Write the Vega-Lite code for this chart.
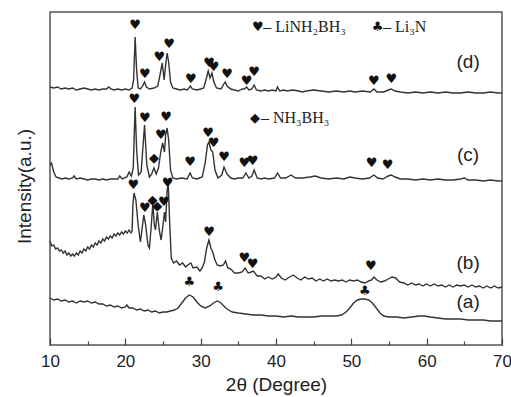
{
  "$schema": "https://vega.github.io/schema/vega-lite/v6.json",
  "width": 452,
  "height": 333,
  "autosize": "none",
  "padding": {"left": 50, "top": 12, "right": 9, "bottom": 52},
  "config": {
    "view": {"stroke": "#555", "strokeWidth": 1.5},
    "font": "Liberation Sans",
    "axis": {"grid": false}
  },
  "datasets": {
    "curves": [
      {"s":"d","x":10,"y":258},{"s":"d","x":10.5,"y":257},{"s":"d","x":11,"y":258},{"s":"d","x":11.5,"y":256},{"s":"d","x":12,"y":257},{"s":"d","x":12.5,"y":256},{"s":"d","x":13,"y":257},{"s":"d","x":13.5,"y":255},{"s":"d","x":14,"y":256},{"s":"d","x":14.5,"y":257},{"s":"d","x":15,"y":256},{"s":"d","x":15.5,"y":255},{"s":"d","x":16,"y":256},{"s":"d","x":16.5,"y":255},{"s":"d","x":17,"y":256},{"s":"d","x":17.5,"y":256},{"s":"d","x":17.8,"y":258},{"s":"d","x":18.1,"y":256},{"s":"d","x":18.5,"y":255},{"s":"d","x":19,"y":256},{"s":"d","x":19.5,"y":255},{"s":"d","x":20,"y":256},{"s":"d","x":20.5,"y":255},{"s":"d","x":20.9,"y":257},{"s":"d","x":21.1,"y":265},{"s":"d","x":21.3,"y":308},{"s":"d","x":21.5,"y":275},{"s":"d","x":21.7,"y":257},{"s":"d","x":22,"y":256},{"s":"d","x":22.3,"y":259},{"s":"d","x":22.55,"y":263},{"s":"d","x":22.8,"y":258},{"s":"d","x":23.2,"y":256},{"s":"d","x":23.8,"y":257},{"s":"d","x":24.3,"y":259},{"s":"d","x":24.6,"y":270},{"s":"d","x":24.9,"y":282},{"s":"d","x":25.15,"y":265},{"s":"d","x":25.35,"y":280},{"s":"d","x":25.55,"y":292},{"s":"d","x":25.75,"y":283},{"s":"d","x":26,"y":263},{"s":"d","x":26.3,"y":257},{"s":"d","x":26.8,"y":256},{"s":"d","x":27.3,"y":255},{"s":"d","x":27.8,"y":256},{"s":"d","x":28.2,"y":255},{"s":"d","x":28.45,"y":257},{"s":"d","x":28.65,"y":259},{"s":"d","x":28.9,"y":256},{"s":"d","x":29.5,"y":255},{"s":"d","x":30,"y":256},{"s":"d","x":30.4,"y":257},{"s":"d","x":30.7,"y":265},{"s":"d","x":31,"y":274},{"s":"d","x":31.25,"y":267},{"s":"d","x":31.5,"y":272},{"s":"d","x":31.75,"y":263},{"s":"d","x":32.1,"y":257},{"s":"d","x":32.7,"y":256},{"s":"d","x":33,"y":260},{"s":"d","x":33.25,"y":263},{"s":"d","x":33.5,"y":259},{"s":"d","x":34,"y":256},{"s":"d","x":34.5,"y":255},{"s":"d","x":35,"y":254},{"s":"d","x":35.5,"y":256},{"s":"d","x":35.8,"y":256},{"s":"d","x":36.1,"y":258},{"s":"d","x":36.4,"y":255},{"s":"d","x":36.8,"y":256},{"s":"d","x":37.1,"y":260},{"s":"d","x":37.4,"y":255},{"s":"d","x":38,"y":254},{"s":"d","x":38.5,"y":255},{"s":"d","x":39,"y":254},{"s":"d","x":39.5,"y":255},{"s":"d","x":40,"y":254},{"s":"d","x":40.2,"y":258},{"s":"d","x":40.5,"y":254},{"s":"d","x":41,"y":255},{"s":"d","x":41.5,"y":254},{"s":"d","x":42.2,"y":255},{"s":"d","x":43,"y":254},{"s":"d","x":43.5,"y":253},{"s":"d","x":44,"y":254},{"s":"d","x":45,"y":255},{"s":"d","x":46,"y":254},{"s":"d","x":47,"y":253},{"s":"d","x":48,"y":254},{"s":"d","x":49,"y":253},{"s":"d","x":49.8,"y":254},{"s":"d","x":50.5,"y":253},{"s":"d","x":51.5,"y":254},{"s":"d","x":52.5,"y":253},{"s":"d","x":53,"y":256},{"s":"d","x":53.4,"y":253},{"s":"d","x":54.3,"y":253},{"s":"d","x":54.9,"y":255},{"s":"d","x":55.3,"y":256},{"s":"d","x":55.8,"y":254},{"s":"d","x":56.5,"y":253},{"s":"d","x":57.5,"y":252},{"s":"d","x":58.5,"y":253},{"s":"d","x":59.5,"y":252},{"s":"d","x":60.5,"y":253},{"s":"d","x":61.5,"y":252},{"s":"d","x":62.5,"y":253},{"s":"d","x":63.5,"y":252},{"s":"d","x":64.5,"y":252},{"s":"d","x":65.5,"y":253},{"s":"d","x":66.5,"y":252},{"s":"d","x":67.5,"y":252},{"s":"d","x":68.5,"y":253},{"s":"d","x":69.5,"y":252},{"s":"d","x":70,"y":252},

      {"s":"c","x":10,"y":180},{"s":"c","x":10.2,"y":182},{"s":"c","x":10.5,"y":173},{"s":"c","x":10.8,"y":168},{"s":"c","x":11.2,"y":167},{"s":"c","x":11.6,"y":166},{"s":"c","x":12,"y":167},{"s":"c","x":12.5,"y":166},{"s":"c","x":13,"y":167},{"s":"c","x":13.2,"y":169},{"s":"c","x":13.5,"y":166},{"s":"c","x":14,"y":167},{"s":"c","x":14.5,"y":166},{"s":"c","x":15,"y":165},{"s":"c","x":15.5,"y":166},{"s":"c","x":16,"y":166},{"s":"c","x":16.5,"y":165},{"s":"c","x":17,"y":166},{"s":"c","x":17.5,"y":165},{"s":"c","x":18,"y":166},{"s":"c","x":18.5,"y":166},{"s":"c","x":19,"y":166},{"s":"c","x":19.25,"y":169},{"s":"c","x":19.6,"y":166},{"s":"c","x":20.2,"y":168},{"s":"c","x":20.5,"y":173},{"s":"c","x":20.8,"y":169},{"s":"c","x":21.05,"y":177},{"s":"c","x":21.3,"y":238},{"s":"c","x":21.5,"y":195},{"s":"c","x":21.75,"y":170},{"s":"c","x":22.1,"y":173},{"s":"c","x":22.55,"y":220},{"s":"c","x":22.85,"y":180},{"s":"c","x":23.2,"y":168},{"s":"c","x":23.5,"y":171},{"s":"c","x":23.8,"y":177},{"s":"c","x":24.1,"y":171},{"s":"c","x":24.4,"y":177},{"s":"c","x":24.7,"y":193},{"s":"c","x":24.95,"y":202},{"s":"c","x":25.2,"y":193},{"s":"c","x":25.35,"y":210},{"s":"c","x":25.55,"y":217},{"s":"c","x":25.75,"y":205},{"s":"c","x":26,"y":175},{"s":"c","x":26.3,"y":167},{"s":"c","x":26.8,"y":166},{"s":"c","x":27.5,"y":167},{"s":"c","x":28.2,"y":166},{"s":"c","x":28.6,"y":172},{"s":"c","x":28.9,"y":167},{"s":"c","x":29.5,"y":166},{"s":"c","x":30.2,"y":168},{"s":"c","x":30.6,"y":182},{"s":"c","x":30.9,"y":200},{"s":"c","x":31.1,"y":203},{"s":"c","x":31.35,"y":195},{"s":"c","x":31.6,"y":193},{"s":"c","x":31.9,"y":175},{"s":"c","x":32.3,"y":167},{"s":"c","x":32.8,"y":170},{"s":"c","x":33.1,"y":178},{"s":"c","x":33.5,"y":171},{"s":"c","x":34,"y":167},{"s":"c","x":34.5,"y":166},{"s":"c","x":35,"y":167},{"s":"c","x":35.6,"y":167},{"s":"c","x":36,"y":172},{"s":"c","x":36.4,"y":167},{"s":"c","x":36.8,"y":169},{"s":"c","x":37.1,"y":175},{"s":"c","x":37.5,"y":167},{"s":"c","x":38,"y":166},{"s":"c","x":38.5,"y":167},{"s":"c","x":39,"y":166},{"s":"c","x":39.8,"y":167},{"s":"c","x":40.2,"y":172},{"s":"c","x":40.6,"y":167},{"s":"c","x":41.3,"y":167},{"s":"c","x":42,"y":170},{"s":"c","x":42.6,"y":167},{"s":"c","x":43.5,"y":167},{"s":"c","x":44.5,"y":168},{"s":"c","x":45.2,"y":169},{"s":"c","x":46,"y":167},{"s":"c","x":47,"y":166},{"s":"c","x":48,"y":167},{"s":"c","x":49,"y":166},{"s":"c","x":49.8,"y":168},{"s":"c","x":50.5,"y":167},{"s":"c","x":51.5,"y":166},{"s":"c","x":52.4,"y":167},{"s":"c","x":53,"y":170},{"s":"c","x":53.5,"y":167},{"s":"c","x":54.2,"y":166},{"s":"c","x":54.9,"y":169},{"s":"c","x":55.3,"y":170},{"s":"c","x":55.8,"y":168},{"s":"c","x":56.5,"y":166},{"s":"c","x":57.5,"y":166},{"s":"c","x":58.5,"y":165},{"s":"c","x":59.5,"y":166},{"s":"c","x":60.5,"y":165},{"s":"c","x":61.5,"y":166},{"s":"c","x":62.5,"y":165},{"s":"c","x":63.5,"y":165},{"s":"c","x":64.5,"y":166},{"s":"c","x":65,"y":167},{"s":"c","x":65.5,"y":165},{"s":"c","x":66.5,"y":165},{"s":"c","x":67.5,"y":164},{"s":"c","x":68.5,"y":165},{"s":"c","x":69.5,"y":164},{"s":"c","x":70,"y":164},

      {"s":"b","x":10,"y":104},{"s":"b","x":10.25,"y":99},{"s":"b","x":10.5,"y":100},{"s":"b","x":10.75,"y":96},{"s":"b","x":11,"y":97},{"s":"b","x":11.25,"y":94},{"s":"b","x":11.5,"y":95},{"s":"b","x":11.75,"y":92},{"s":"b","x":12,"y":94},{"s":"b","x":12.25,"y":90},{"s":"b","x":12.5,"y":92},{"s":"b","x":12.75,"y":89},{"s":"b","x":13,"y":91},{"s":"b","x":13.25,"y":89},{"s":"b","x":13.5,"y":92},{"s":"b","x":13.75,"y":90},{"s":"b","x":14,"y":94},{"s":"b","x":14.25,"y":92},{"s":"b","x":14.5,"y":96},{"s":"b","x":14.75,"y":94},{"s":"b","x":15,"y":98},{"s":"b","x":15.25,"y":96},{"s":"b","x":15.5,"y":100},{"s":"b","x":15.75,"y":98},{"s":"b","x":16,"y":102},{"s":"b","x":16.25,"y":100},{"s":"b","x":16.5,"y":104},{"s":"b","x":16.75,"y":102},{"s":"b","x":17,"y":106},{"s":"b","x":17.25,"y":104},{"s":"b","x":17.5,"y":108},{"s":"b","x":17.75,"y":106},{"s":"b","x":18,"y":109},{"s":"b","x":18.25,"y":107},{"s":"b","x":18.5,"y":111},{"s":"b","x":18.75,"y":109},{"s":"b","x":19,"y":112},{"s":"b","x":19.25,"y":110},{"s":"b","x":19.5,"y":113},{"s":"b","x":19.75,"y":111},{"s":"b","x":20,"y":114},{"s":"b","x":20.25,"y":112},{"s":"b","x":20.5,"y":115},{"s":"b","x":20.75,"y":112},{"s":"b","x":20.9,"y":114},{"s":"b","x":21,"y":140},{"s":"b","x":21.15,"y":152},{"s":"b","x":21.4,"y":145},{"s":"b","x":21.7,"y":120},{"s":"b","x":22,"y":103},{"s":"b","x":22.2,"y":115},{"s":"b","x":22.45,"y":130},{"s":"b","x":22.7,"y":120},{"s":"b","x":23,"y":100},{"s":"b","x":23.2,"y":97},{"s":"b","x":23.45,"y":120},{"s":"b","x":23.65,"y":142},{"s":"b","x":23.85,"y":120},{"s":"b","x":24,"y":115},{"s":"b","x":24.25,"y":133},{"s":"b","x":24.5,"y":115},{"s":"b","x":24.75,"y":105},{"s":"b","x":25,"y":120},{"s":"b","x":25.2,"y":133},{"s":"b","x":25.35,"y":123},{"s":"b","x":25.55,"y":155},{"s":"b","x":25.7,"y":160},{"s":"b","x":25.9,"y":120},{"s":"b","x":26.1,"y":87},{"s":"b","x":26.4,"y":82},{"s":"b","x":26.8,"y":84},{"s":"b","x":27.2,"y":80},{"s":"b","x":27.6,"y":82},{"s":"b","x":28,"y":78},{"s":"b","x":28.3,"y":80},{"s":"b","x":28.7,"y":82},{"s":"b","x":29,"y":77},{"s":"b","x":29.5,"y":78},{"s":"b","x":29.9,"y":74},{"s":"b","x":30.2,"y":77},{"s":"b","x":30.5,"y":83},{"s":"b","x":30.8,"y":97},{"s":"b","x":31.1,"y":105},{"s":"b","x":31.35,"y":97},{"s":"b","x":31.6,"y":93},{"s":"b","x":31.9,"y":85},{"s":"b","x":32.2,"y":80},{"s":"b","x":32.6,"y":79},{"s":"b","x":33,"y":80},{"s":"b","x":33.3,"y":84},{"s":"b","x":33.6,"y":77},{"s":"b","x":34,"y":76},{"s":"b","x":34.5,"y":72},{"s":"b","x":35,"y":72},{"s":"b","x":35.5,"y":73},{"s":"b","x":35.9,"y":77},{"s":"b","x":36.3,"y":72},{"s":"b","x":36.7,"y":73},{"s":"b","x":37,"y":74},{"s":"b","x":37.5,"y":69},{"s":"b","x":38,"y":69},{"s":"b","x":38.5,"y":66},{"s":"b","x":39,"y":68},{"s":"b","x":39.5,"y":66},{"s":"b","x":40,"y":68},{"s":"b","x":40.3,"y":71},{"s":"b","x":40.7,"y":67},{"s":"b","x":41.2,"y":65},{"s":"b","x":41.8,"y":68},{"s":"b","x":42.3,"y":70},{"s":"b","x":42.8,"y":67},{"s":"b","x":43.3,"y":65},{"s":"b","x":43.8,"y":68},{"s":"b","x":44.3,"y":66},{"s":"b","x":44.8,"y":67},{"s":"b","x":45.3,"y":64},{"s":"b","x":45.8,"y":66},{"s":"b","x":46.3,"y":64},{"s":"b","x":46.8,"y":66},{"s":"b","x":47.3,"y":64},{"s":"b","x":47.8,"y":65},{"s":"b","x":48.3,"y":64},{"s":"b","x":48.8,"y":65},{"s":"b","x":49.3,"y":63},{"s":"b","x":49.8,"y":65},{"s":"b","x":50.3,"y":64},{"s":"b","x":50.8,"y":65},{"s":"b","x":51.3,"y":63},{"s":"b","x":51.8,"y":62},{"s":"b","x":52.3,"y":64},{"s":"b","x":52.7,"y":65},{"s":"b","x":53,"y":68},{"s":"b","x":53.4,"y":65},{"s":"b","x":53.9,"y":63},{"s":"b","x":54.4,"y":64},{"s":"b","x":54.9,"y":66},{"s":"b","x":55.4,"y":68},{"s":"b","x":55.9,"y":67},{"s":"b","x":56.4,"y":63},{"s":"b","x":57,"y":62},{"s":"b","x":57.5,"y":60},{"s":"b","x":58,"y":62},{"s":"b","x":58.5,"y":60},{"s":"b","x":59,"y":61},{"s":"b","x":59.5,"y":59},{"s":"b","x":60,"y":61},{"s":"b","x":60.5,"y":59},{"s":"b","x":61,"y":61},{"s":"b","x":61.5,"y":59},{"s":"b","x":62,"y":60},{"s":"b","x":62.5,"y":58},{"s":"b","x":63,"y":60},{"s":"b","x":63.5,"y":58},{"s":"b","x":64,"y":60},{"s":"b","x":64.5,"y":59},{"s":"b","x":65,"y":60},{"s":"b","x":65.5,"y":58},{"s":"b","x":66,"y":60},{"s":"b","x":66.5,"y":58},{"s":"b","x":67,"y":59},{"s":"b","x":67.5,"y":57},{"s":"b","x":68,"y":59},{"s":"b","x":68.5,"y":57},{"s":"b","x":69,"y":59},{"s":"b","x":69.5,"y":57},{"s":"b","x":70,"y":58},

      {"s":"a","x":10,"y":47},{"s":"a","x":10.5,"y":45},{"s":"a","x":11,"y":46},{"s":"a","x":11.5,"y":44},{"s":"a","x":12,"y":45},{"s":"a","x":12.5,"y":43},{"s":"a","x":13,"y":44},{"s":"a","x":13.5,"y":42},{"s":"a","x":14,"y":44},{"s":"a","x":14.5,"y":43},{"s":"a","x":15,"y":44},{"s":"a","x":15.5,"y":42},{"s":"a","x":16,"y":43},{"s":"a","x":16.5,"y":41},{"s":"a","x":17,"y":41},{"s":"a","x":17.5,"y":39},{"s":"a","x":18,"y":40},{"s":"a","x":18.5,"y":38},{"s":"a","x":19,"y":39},{"s":"a","x":19.5,"y":37},{"s":"a","x":20,"y":38},{"s":"a","x":20.2,"y":40},{"s":"a","x":20.5,"y":37},{"s":"a","x":21,"y":37},{"s":"a","x":21.5,"y":35},{"s":"a","x":22,"y":36},{"s":"a","x":22.5,"y":34},{"s":"a","x":23,"y":35},{"s":"a","x":23.5,"y":33},{"s":"a","x":24,"y":34},{"s":"a","x":24.5,"y":32},{"s":"a","x":25,"y":33},{"s":"a","x":25.5,"y":33},{"s":"a","x":26,"y":34},{"s":"a","x":26.5,"y":35},{"s":"a","x":27,"y":37},{"s":"a","x":27.5,"y":42},{"s":"a","x":28,"y":47},{"s":"a","x":28.5,"y":50},{"s":"a","x":29,"y":48},{"s":"a","x":29.5,"y":43},{"s":"a","x":30,"y":39},{"s":"a","x":30.6,"y":37},{"s":"a","x":31.2,"y":39},{"s":"a","x":31.7,"y":42},{"s":"a","x":32.2,"y":44},{"s":"a","x":32.7,"y":42},{"s":"a","x":33.2,"y":38},{"s":"a","x":33.7,"y":35},{"s":"a","x":34.2,"y":33},{"s":"a","x":35,"y":32},{"s":"a","x":36,"y":31},{"s":"a","x":37,"y":30},{"s":"a","x":38,"y":30},{"s":"a","x":39,"y":29},{"s":"a","x":40,"y":29},{"s":"a","x":41,"y":28},{"s":"a","x":42,"y":29},{"s":"a","x":43,"y":28},{"s":"a","x":44,"y":28},{"s":"a","x":45,"y":28},{"s":"a","x":46,"y":29},{"s":"a","x":47,"y":29},{"s":"a","x":48,"y":29},{"s":"a","x":48.7,"y":30},{"s":"a","x":49.3,"y":33},{"s":"a","x":49.8,"y":37},{"s":"a","x":50.3,"y":42},{"s":"a","x":50.8,"y":45},{"s":"a","x":51.3,"y":46},{"s":"a","x":51.8,"y":46},{"s":"a","x":52.3,"y":45},{"s":"a","x":52.8,"y":42},{"s":"a","x":53.3,"y":37},{"s":"a","x":53.8,"y":32},{"s":"a","x":54.3,"y":29},{"s":"a","x":55,"y":28},{"s":"a","x":56,"y":28},{"s":"a","x":57,"y":27},{"s":"a","x":58,"y":28},{"s":"a","x":59,"y":29},{"s":"a","x":59.7,"y":29},{"s":"a","x":60.5,"y":28},{"s":"a","x":61.5,"y":27},{"s":"a","x":62.5,"y":26},{"s":"a","x":63.5,"y":26},{"s":"a","x":64.5,"y":26},{"s":"a","x":65.5,"y":25},{"s":"a","x":66.5,"y":25},{"s":"a","x":67.5,"y":25},{"s":"a","x":68.5,"y":24},{"s":"a","x":69.5,"y":24},{"s":"a","x":70,"y":24}
    ],
    "markers": [
      {"m":"♥","x":21.3,"y":320},{"m":"♥","x":22.6,"y":271},{"m":"♥","x":24.5,"y":288},{"m":"♥","x":25.8,"y":301},{"m":"♥","x":28.7,"y":266},{"m":"♥","x":31.1,"y":282},{"m":"♥","x":31.7,"y":278},{"m":"♥","x":33.5,"y":271},{"m":"♥","x":36.1,"y":264},{"m":"♥","x":37.1,"y":273},{"m":"♥","x":53.0,"y":264},{"m":"♥","x":55.3,"y":266},
      {"m":"♥","x":21.2,"y":246},{"m":"♥","x":22.6,"y":227},{"m":"♥","x":25.4,"y":228},{"m":"♥","x":24.7,"y":210},{"m":"◆","x":23.8,"y":187},{"m":"♥","x":31.0,"y":212},{"m":"♥","x":31.7,"y":202},{"m":"♥","x":33.1,"y":188},{"m":"♥","x":28.6,"y":183},{"m":"♥","x":35.8,"y":182},{"m":"♥","x":36.9,"y":184},{"m":"♥","x":52.7,"y":182},{"m":"♥","x":54.8,"y":180},
      {"m":"♥","x":21.06,"y":160},{"m":"♥","x":22.6,"y":137},{"m":"◆","x":23.6,"y":145},{"m":"◆","x":24.25,"y":139},{"m":"♥","x":25.1,"y":143},{"m":"♥","x":25.6,"y":162},{"m":"♥","x":31.1,"y":113},{"m":"♥","x":35.8,"y":87},{"m":"♥","x":36.9,"y":81},{"m":"♥","x":52.6,"y":79},
      {"m":"♣","x":28.5,"y":63},{"m":"♣","x":32.3,"y":58},{"m":"♣","x":51.8,"y":54},
      {"m":"♥","x":37.6,"y":318},{"m":"♣","x":53.5,"y":318},{"m":"◆","x":37.2,"y":227}
    ],
    "notes": [
      {"t":"– LiNH₂BH₃","x":38.3,"y":318},
      {"t":"– Li₃N","x":54.2,"y":318},
      {"t":"– NH₃BH₃","x":38.0,"y":227}
    ],
    "tags": [
      {"t":"(d)","x":65.5,"y":283},
      {"t":"(c)","x":65.5,"y":190},
      {"t":"(b)","x":65.5,"y":82},
      {"t":"(a)","x":65.5,"y":43}
    ]
  },
  "resolve": {"axis": {"x": "independent"}},
  "layer": [
    {
      "data": {"name": "curves"},
      "mark": {"type": "line", "color": "#333", "interpolate": "linear"},
      "encoding": {
        "x": {"field": "x", "type": "quantitative", "scale": {"domain": [10, 70], "nice": false},
          "axis": {"orient": "bottom", "values": [10, 20, 30, 40, 50, 60, 70], "tickSize": -7, "tickColor": "#444", "tickWidth": 1.2, "domain": false,
            "labelPadding": 15, "labelFontSize": 17, "labelColor": "#222", "labelFlush": false,
            "title": "2θ (Degree)", "titleFontSize": 19, "titleFontWeight": "normal", "titleColor": "#222", "titlePadding": 6}},
        "y": {"field": "y", "type": "quantitative", "scale": {"domain": [0, 333], "nice": false},
          "axis": {"ticks": false, "labels": false, "domain": false, "title": "Intensity(a.u.)", "titleFontSize": 19, "titleFontWeight": "normal", "titleColor": "#222", "titlePadding": 16, "titleY": 174}},
        "detail": {"field": "s"},
        "strokeWidth": {"field": "s", "type": "nominal", "scale": {"domain": ["a", "b", "c", "d"], "range": [1.4, 1.4, 1, 1]}, "legend": null}
      }
    },
    {
      "data": {"name": "markers"},
      "mark": {"type": "text", "font": "DejaVu Sans", "color": "#111", "baseline": "middle", "align": "center"},
      "encoding": {
        "x": {"field": "x", "type": "quantitative",
          "axis": {"orient": "bottom", "values": [15, 25, 35, 45, 55, 65], "tickSize": -4, "tickColor": "#444", "tickWidth": 1.2, "domain": false, "labels": false, "title": null}},
        "y": {"field": "y", "type": "quantitative"},
        "text": {"field": "m"},
        "size": {"field": "m", "type": "nominal", "scale": {"domain": ["♥", "♣", "◆"], "range": [13, 13, 9]}, "legend": null}
      }
    },
    {
      "data": {"name": "notes"},
      "mark": {"type": "text", "font": "Liberation Serif", "fontSize": 16, "color": "#222", "align": "left", "baseline": "middle"},
      "encoding": {
        "x": {"field": "x", "type": "quantitative", "axis": null},
        "y": {"field": "y", "type": "quantitative"},
        "text": {"field": "t"}
      }
    },
    {
      "data": {"name": "tags"},
      "mark": {"type": "text", "font": "Liberation Sans", "fontSize": 19, "color": "#222", "align": "center", "baseline": "middle"},
      "encoding": {
        "x": {"field": "x", "type": "quantitative", "axis": null},
        "y": {"field": "y", "type": "quantitative"},
        "text": {"field": "t"}
      }
    }
  ]
}
